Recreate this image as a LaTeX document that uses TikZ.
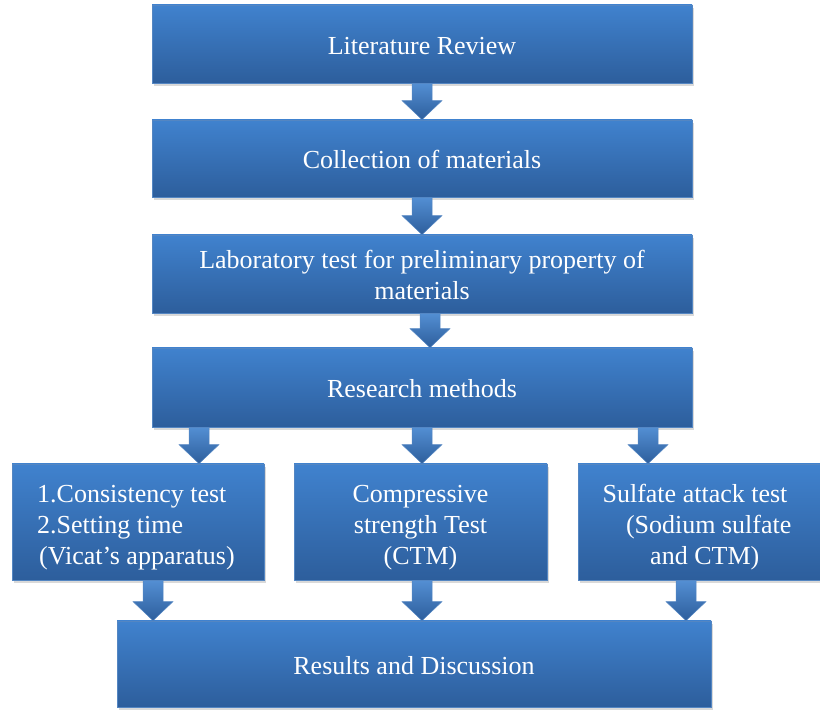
\documentclass[tikz,border=0pt]{standalone}
\usepackage{fontspec}
\setmainfont{Liberation Serif}
\usetikzlibrary{calc,shadows}
\definecolor{boxtop}{RGB}{64,130,206}
\definecolor{boxbottom}{RGB}{45,94,156}
\definecolor{boxline}{RGB}{84,134,194}

% extra room above the first line of a box
\newcommand{\topgap}[1]{\rule{0pt}{#1}}

% block arrow: x position, from node, to node
\newcommand{\blockarrow}[3]{%
  \path[flowarrow] let \p1=(#2.south), \p2=(#3.north) in
    ({(#1-10)*1pt},\y1) -- ({(#1+10)*1pt},\y1) -- ({(#1+10)*1pt},{\y2+19pt})
    -- ({(#1+20)*1pt},{\y2+19pt}) -- ({#1*1pt},\y2) -- ({(#1-20)*1pt},{\y2+19pt})
    -- ({(#1-10)*1pt},{\y2+19pt}) -- cycle;}

\begin{document}
\begin{tikzpicture}[x=1pt,y=1pt,
    stage/.style={draw=boxline, line width=0.8pt, top color=boxtop, bottom color=boxbottom,
      text=white, inner sep=0pt, align=center,
      font=\fontsize{26}{31}\selectfont,
      drop shadow={shadow xshift=1.5pt, shadow yshift=-3pt, opacity=0.3}},
    test/.style={stage, minimum height=116pt},
    flowarrow/.style={draw=boxline, line width=0.5pt, top color=boxtop!90!white, bottom color=boxbottom}]
  \useasboundingbox (0,0) rectangle (820,711);

  \node[stage, minimum width=540pt, minimum height=78pt] (review)   at (422,667)   {\topgap{21pt}Literature Review};
  \node[stage, minimum width=540pt, minimum height=77pt] (collect)  at (422,552.5) {\topgap{21pt}Collection of materials};
  \node[stage, minimum width=540pt, minimum height=78pt] (labtest)  at (422,437)   {\topgap{21pt}Laboratory test for preliminary property of\\ materials};
  \node[stage, minimum width=540pt, minimum height=79pt] (methods)  at (422,323.5) {\topgap{21pt}Research methods};
  \node[test, minimum width=252pt, align=left] (vicat) at (138,189)
    {\topgap{29pt}1.Consistency test\\2.Setting time\\\hspace{2pt}(Vicat’s apparatus)\hspace*{4pt}};
  \node[test, minimum width=253pt] (ctm)     at (420.5,189) {\topgap{29pt}Compressive\\ strength Test\\ (CTM)};
  \node[test, minimum width=242pt] (sulfate) at (699,189)
    {\topgap{29pt}Sulfate attack test\hspace*{8pt}\\ \hspace{0.75em}(Sodium sulfate\hspace*{8pt}\\ \hspace{0.75em}and CTM)\hspace*{8pt}};
  \node[stage, minimum width=594pt, minimum height=86pt]  (results) at (414,47)    {\topgap{21pt}Results and Discussion};

  \blockarrow{422}{review}{collect}
  \blockarrow{422}{collect}{labtest}
  \blockarrow{430}{labtest}{methods}
  \blockarrow{199}{methods}{vicat}
  \blockarrow{422}{methods}{ctm}
  \blockarrow{648}{methods}{sulfate}
  \blockarrow{153}{vicat}{results}
  \blockarrow{422}{ctm}{results}
  \blockarrow{686}{sulfate}{results}
\end{tikzpicture}
\end{document}
